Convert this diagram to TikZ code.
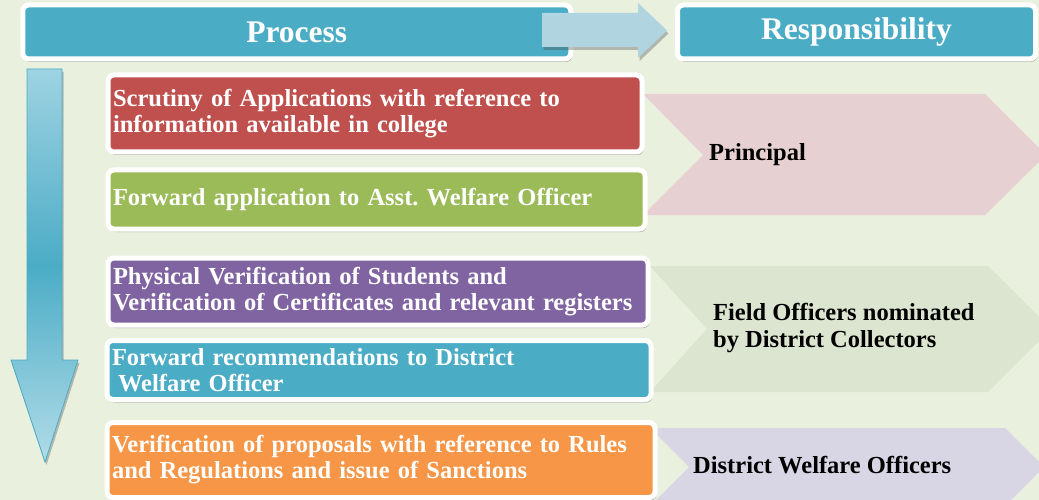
\documentclass[tikz,border=0pt]{standalone}
\usepackage{fontspec}
\setmainfont{Liberation Serif}
\usetikzlibrary{shadows}
\frenchspacing
\definecolor{bg}{HTML}{EAF0DE}
\definecolor{hdrblue}{HTML}{4BACC6}
\definecolor{arrlight}{HTML}{B0D4E0}
\definecolor{redbox}{HTML}{C0504D}
\definecolor{greenbox}{HTML}{9BBB59}
\definecolor{purplebox}{HTML}{8064A2}
\definecolor{bluebox}{HTML}{4BACC6}
\definecolor{orangebox}{HTML}{F79646}
\definecolor{chevpink}{HTML}{E6D0D1}
\definecolor{chevgreen}{HTML}{DCE5D0}
\definecolor{chevlav}{HTML}{D8D5E5}
\definecolor{dlight}{HTML}{9ED3E2}
\definecolor{dmid}{HTML}{4BACC6}
\tikzset{
  shade/.style={drop shadow={shadow xshift=1.5pt, shadow yshift=-3pt, opacity=0.35, fill=black!70}},
  hdr/.style={fill=hdrblue, draw=white, line width=5pt, rounded corners=6pt, text=white,
    font=\bfseries\fontsize{31.5}{34}\selectfont, inner sep=0pt, shade},
  procbox/.style={draw=white, line width=5pt, rounded corners=6pt, text=white,
    font=\bfseries\fontsize{24.5}{26}\selectfont, align=left, inner sep=5pt, shade},
  resp/.style={font=\bfseries\fontsize{24.5}{27}\selectfont, align=left, anchor=west, text=black, inner sep=0pt},
}
\begin{document}
\begin{tikzpicture}[x=1pt,y=-1pt]
\useasboundingbox (0,0) rectangle (1039,500);
\fill[bg] (0,0) rectangle (1039,500);
\begin{scope}
\clip (0,0) rectangle (1039,500);
% chevrons
\fill[chevpink] (643,94) -- (985,94) -- (1046,155) -- (985,215) -- (643,215) -- (703,155) -- cycle;
\fill[chevgreen] (650,266) -- (988,266) -- (1051,329) -- (988,392) -- (650,392) -- (707,329) -- cycle;
\fill[chevlav] (650,428) -- (1005,428) -- (1044,467) -- (1005,506) -- (650,506) -- (689,467) -- cycle;
\end{scope}
% headers
\node[hdr, minimum width=548pt, minimum height=54pt] (process) at (296.75,32) {Process};
\node[hdr, minimum width=358pt, minimum height=54pt] (resp) at (856.5,32) {Responsibility};
% right arrow between headers
\fill[arrlight, shade] (542,13) -- (638,13) -- (638,3) -- (667,30.5) -- (638,58) -- (638,47) -- (542,47) -- cycle;
% down arrow
\path[draw=dmid, line width=0.8pt, top color=dlight, bottom color=dlight!80, middle color=dmid, shade]
  (27,69) -- (62,69) -- (62,360) -- (78,360) -- (45,462) -- (11,360) -- (27,360) -- cycle;
% process boxes
\node[procbox, fill=redbox, text width=524pt, minimum height=77pt] (b1) at (375,113.5)
  {Scrutiny of Applications with reference to\\information available in college};
\node[procbox, fill=greenbox, text width=527pt, minimum height=59pt] (b2) at (376.5,199.5)
  {Forward application to Asst. Welfare Officer};
\node[procbox, fill=purplebox, text width=530pt, minimum height=67pt] (b3) at (378,291.5)
  {Physical Verification of Students and\\Verification of Certificates and relevant registers};
\node[procbox, fill=bluebox, text width=534pt, minimum height=59pt] (b4) at (379,370)
  {Forward recommendations to District\\\hspace*{6pt}Welfare Officer};
\node[procbox, fill=orangebox, text width=538pt, minimum height=75pt] (b5) at (381,460)
  {Verification of proposals with reference to Rules\\and Regulations and issue of Sanctions};
% responsibility texts
\node[resp] (r1) at (709,155) {Principal};
\node[resp] (r2) at (713,328.5) {Field Officers nominated\\by District Collectors};
\node[resp] (r3) at (693,465) {District Welfare Officers};
\end{tikzpicture}
\end{document}
